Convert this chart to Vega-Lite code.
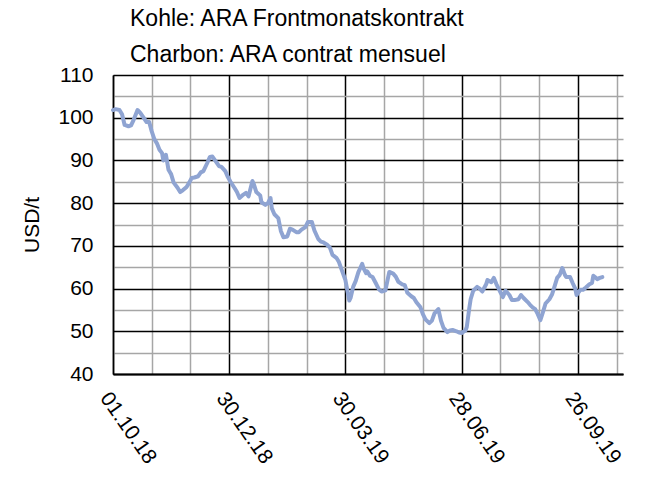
{
  "$schema": "https://vega.github.io/schema/vega-lite/v6.json",
  "width": 510,
  "height": 299,
  "autosize": {"type": "none"},
  "padding": {"left": 113, "top": 75, "right": 25, "bottom": 105},
  "background": "white",
  "config": {"view": {"stroke": null}, "font": "Liberation Sans"},
  "title": {
    "text": ["Kohle: ARA Frontmonatskontrakt", "Charbon: ARA contrat mensuel"],
    "anchor": "start",
    "frame": "group",
    "dx": 17,
    "dy": 35,
    "fontSize": 23,
    "fontWeight": "normal",
    "font": "Liberation Sans",
    "color": "black",
    "offset": 9,
    "baseline": "bottom",
    "lineHeight": 36
  },
  "data": {
    "values": [
      {"date": "2018-10-01", "v": 101.8}, {"date": "2018-10-03", "v": 102.0}, {"date": "2018-10-06", "v": 101.8},
      {"date": "2018-10-08", "v": 100.8}, {"date": "2018-10-10", "v": 98.3}, {"date": "2018-10-13", "v": 98.0},
      {"date": "2018-10-15", "v": 98.2}, {"date": "2018-10-17", "v": 99.5}, {"date": "2018-10-20", "v": 101.8},
      {"date": "2018-10-22", "v": 101.2}, {"date": "2018-10-24", "v": 100.3}, {"date": "2018-10-27", "v": 99.0},
      {"date": "2018-10-29", "v": 99.0}, {"date": "2018-10-31", "v": 96.8}, {"date": "2018-11-02", "v": 95.0},
      {"date": "2018-11-04", "v": 94.0}, {"date": "2018-11-06", "v": 92.5}, {"date": "2018-11-08", "v": 91.7},
      {"date": "2018-11-09", "v": 90.0}, {"date": "2018-11-11", "v": 91.3}, {"date": "2018-11-13", "v": 87.8},
      {"date": "2018-11-15", "v": 86.8}, {"date": "2018-11-17", "v": 84.8}, {"date": "2018-11-20", "v": 83.6},
      {"date": "2018-11-22", "v": 82.6}, {"date": "2018-11-24", "v": 83.0}, {"date": "2018-11-27", "v": 83.8},
      {"date": "2018-11-29", "v": 84.8}, {"date": "2018-12-01", "v": 85.9}, {"date": "2018-12-03", "v": 86.0},
      {"date": "2018-12-06", "v": 86.3}, {"date": "2018-12-08", "v": 87.2}, {"date": "2018-12-10", "v": 87.5},
      {"date": "2018-12-13", "v": 89.4}, {"date": "2018-12-15", "v": 90.8}, {"date": "2018-12-17", "v": 90.9},
      {"date": "2018-12-20", "v": 89.6}, {"date": "2018-12-22", "v": 88.7}, {"date": "2018-12-24", "v": 88.5},
      {"date": "2018-12-27", "v": 87.5}, {"date": "2018-12-29", "v": 86.1}, {"date": "2018-12-31", "v": 85.0},
      {"date": "2019-01-03", "v": 83.6}, {"date": "2019-01-05", "v": 82.6}, {"date": "2019-01-07", "v": 81.2},
      {"date": "2019-01-10", "v": 82.0}, {"date": "2019-01-12", "v": 82.4}, {"date": "2019-01-14", "v": 81.6},
      {"date": "2019-01-17", "v": 85.2}, {"date": "2019-01-18", "v": 84.5}, {"date": "2019-01-20", "v": 82.6},
      {"date": "2019-01-23", "v": 81.8}, {"date": "2019-01-24", "v": 80.2}, {"date": "2019-01-27", "v": 79.6},
      {"date": "2019-01-29", "v": 80.0}, {"date": "2019-01-31", "v": 81.2}, {"date": "2019-02-01", "v": 78.8},
      {"date": "2019-02-03", "v": 77.4}, {"date": "2019-02-06", "v": 76.5}, {"date": "2019-02-08", "v": 73.5},
      {"date": "2019-02-10", "v": 72.0}, {"date": "2019-02-13", "v": 72.2}, {"date": "2019-02-15", "v": 74.0},
      {"date": "2019-02-17", "v": 73.8}, {"date": "2019-02-20", "v": 73.2}, {"date": "2019-02-22", "v": 73.2},
      {"date": "2019-02-24", "v": 73.8}, {"date": "2019-02-27", "v": 74.4}, {"date": "2019-03-01", "v": 75.6},
      {"date": "2019-03-04", "v": 75.6}, {"date": "2019-03-06", "v": 73.6}, {"date": "2019-03-09", "v": 71.6},
      {"date": "2019-03-11", "v": 71.0}, {"date": "2019-03-13", "v": 70.8}, {"date": "2019-03-16", "v": 70.2},
      {"date": "2019-03-18", "v": 69.6}, {"date": "2019-03-20", "v": 67.9}, {"date": "2019-03-23", "v": 67.2},
      {"date": "2019-03-25", "v": 66.2}, {"date": "2019-03-27", "v": 64.5}, {"date": "2019-03-30", "v": 62.0},
      {"date": "2019-03-31", "v": 60.4}, {"date": "2019-04-02", "v": 57.2}, {"date": "2019-04-03", "v": 57.8},
      {"date": "2019-04-05", "v": 60.4}, {"date": "2019-04-07", "v": 61.8}, {"date": "2019-04-09", "v": 63.8},
      {"date": "2019-04-12", "v": 65.8}, {"date": "2019-04-13", "v": 64.8}, {"date": "2019-04-15", "v": 63.6},
      {"date": "2019-04-16", "v": 64.0}, {"date": "2019-04-18", "v": 63.0}, {"date": "2019-04-20", "v": 62.7},
      {"date": "2019-04-23", "v": 61.0}, {"date": "2019-04-25", "v": 59.8}, {"date": "2019-04-27", "v": 59.3},
      {"date": "2019-04-30", "v": 59.6}, {"date": "2019-05-02", "v": 62.5}, {"date": "2019-05-03", "v": 63.9},
      {"date": "2019-05-06", "v": 63.5}, {"date": "2019-05-08", "v": 62.8}, {"date": "2019-05-10", "v": 61.6},
      {"date": "2019-05-13", "v": 61.0}, {"date": "2019-05-15", "v": 60.8}, {"date": "2019-05-17", "v": 59.0},
      {"date": "2019-05-20", "v": 58.2}, {"date": "2019-05-22", "v": 57.8}, {"date": "2019-05-24", "v": 56.8},
      {"date": "2019-05-27", "v": 55.7}, {"date": "2019-05-29", "v": 54.0}, {"date": "2019-05-31", "v": 52.8},
      {"date": "2019-06-03", "v": 51.9}, {"date": "2019-06-05", "v": 52.5}, {"date": "2019-06-07", "v": 54.2},
      {"date": "2019-06-10", "v": 55.2}, {"date": "2019-06-12", "v": 52.5}, {"date": "2019-06-14", "v": 50.8},
      {"date": "2019-06-17", "v": 49.8}, {"date": "2019-06-19", "v": 50.2}, {"date": "2019-06-21", "v": 50.3},
      {"date": "2019-06-24", "v": 50.0}, {"date": "2019-06-26", "v": 49.7}, {"date": "2019-06-28", "v": 49.6},
      {"date": "2019-07-01", "v": 50.2}, {"date": "2019-07-02", "v": 51.0}, {"date": "2019-07-04", "v": 55.5},
      {"date": "2019-07-05", "v": 57.5}, {"date": "2019-07-07", "v": 59.5}, {"date": "2019-07-10", "v": 60.4},
      {"date": "2019-07-12", "v": 60.0}, {"date": "2019-07-14", "v": 59.3}, {"date": "2019-07-17", "v": 61.0},
      {"date": "2019-07-18", "v": 62.0}, {"date": "2019-07-21", "v": 61.5}, {"date": "2019-07-23", "v": 62.5},
      {"date": "2019-07-25", "v": 61.0}, {"date": "2019-07-28", "v": 59.2}, {"date": "2019-07-30", "v": 58.0},
      {"date": "2019-08-01", "v": 59.5}, {"date": "2019-08-04", "v": 58.5}, {"date": "2019-08-06", "v": 57.3},
      {"date": "2019-08-08", "v": 57.3}, {"date": "2019-08-11", "v": 57.5}, {"date": "2019-08-13", "v": 58.5},
      {"date": "2019-08-15", "v": 57.8}, {"date": "2019-08-18", "v": 56.9}, {"date": "2019-08-20", "v": 56.2},
      {"date": "2019-08-22", "v": 55.6}, {"date": "2019-08-24", "v": 55.2}, {"date": "2019-08-26", "v": 54.0},
      {"date": "2019-08-28", "v": 52.6}, {"date": "2019-08-30", "v": 54.5}, {"date": "2019-09-01", "v": 56.5},
      {"date": "2019-09-04", "v": 57.5}, {"date": "2019-09-06", "v": 58.6}, {"date": "2019-09-08", "v": 60.5},
      {"date": "2019-09-10", "v": 62.5}, {"date": "2019-09-12", "v": 63.2}, {"date": "2019-09-14", "v": 64.8},
      {"date": "2019-09-16", "v": 63.2}, {"date": "2019-09-17", "v": 62.7}, {"date": "2019-09-20", "v": 62.7},
      {"date": "2019-09-22", "v": 61.3}, {"date": "2019-09-24", "v": 60.0}, {"date": "2019-09-25", "v": 58.5},
      {"date": "2019-09-28", "v": 59.7}, {"date": "2019-09-30", "v": 59.7}, {"date": "2019-10-02", "v": 60.2},
      {"date": "2019-10-05", "v": 61.0}, {"date": "2019-10-07", "v": 61.3}, {"date": "2019-10-08", "v": 63.0},
      {"date": "2019-10-10", "v": 62.5}, {"date": "2019-10-11", "v": 62.2}, {"date": "2019-10-13", "v": 62.5},
      {"date": "2019-10-15", "v": 62.7}
    ]
  },
  "mark": {"type": "line", "color": "#8FA4D2", "strokeWidth": 4, "strokeJoin": "round", "strokeCap": "round"},
  "encoding": {
    "x": {
      "field": "date",
      "type": "temporal",
      "scale": {
        "type": "utc",
        "domain": [
          {"year": 2018, "month": 10, "date": 1, "utc": true},
          {"year": 2019, "month": 10, "date": 31, "utc": true}
        ]
      },
      "axis": {
        "title": null,
        "values": [
          {"year": 2018, "month": 10, "date": 1, "utc": true},
          {"year": 2018, "month": 10, "date": 31, "utc": true},
          {"year": 2018, "month": 11, "date": 30, "utc": true},
          {"year": 2018, "month": 12, "date": 30, "utc": true},
          {"year": 2019, "month": 1, "date": 29, "utc": true},
          {"year": 2019, "month": 2, "date": 28, "utc": true},
          {"year": 2019, "month": 3, "date": 30, "utc": true},
          {"year": 2019, "month": 4, "date": 29, "utc": true},
          {"year": 2019, "month": 5, "date": 29, "utc": true},
          {"year": 2019, "month": 6, "date": 28, "utc": true},
          {"year": 2019, "month": 7, "date": 28, "utc": true},
          {"year": 2019, "month": 8, "date": 27, "utc": true},
          {"year": 2019, "month": 9, "date": 26, "utc": true},
          {"year": 2019, "month": 10, "date": 26, "utc": true}
        ],
        "labelExpr": "round((datum.value - utc(2018,9,1)) / 864e5) % 90 === 0 ? utcFormat(datum.value, '%d.%m.%y') : ''",
        "labelOverlap": false,
        "labelAngle": 55,
        "labelAlign": "left",
        "labelBaseline": "top",
        "labelPadding": 14,
        "labelFontSize": 21,
        "labelColor": "black",
        "labelFont": "Liberation Sans",
        "ticks": false,
        "domain": true,
        "domainColor": "black",
        "domainWidth": 2,
        "grid": true,
        "gridWidth": 1.5,
        "gridOpacity": 1,
        "gridColor": {
          "condition": {"test": "round((datum.value - utc(2018,9,1)) / 864e5) % 90 === 0", "value": "black"},
          "value": "#A6A6A6"
        }
      }
    },
    "y": {
      "field": "v",
      "type": "quantitative",
      "scale": {"domain": [40, 110], "nice": false, "zero": false},
      "axis": {
        "title": "USD/t",
        "titleFontSize": 21,
        "titleFontWeight": "normal",
        "titleFont": "Liberation Sans",
        "titleColor": "black",
        "titlePadding": 15,
        "values": [40, 45, 50, 55, 60, 65, 70, 75, 80, 85, 90, 95, 100, 105, 110],
        "labelExpr": "datum.value % 10 === 0 ? datum.label : ''",
        "labelOverlap": false,
        "labelPadding": 20,
        "labelFontSize": 21,
        "labelColor": "black",
        "labelFont": "Liberation Sans",
        "ticks": false,
        "domain": true,
        "domainColor": "black",
        "domainWidth": 1.5,
        "grid": true,
        "gridWidth": 1.5,
        "gridOpacity": 1,
        "gridColor": {
          "condition": {"test": "datum.value % 10 === 0", "value": "black"},
          "value": "#A6A6A6"
        }
      }
    }
  }
}
